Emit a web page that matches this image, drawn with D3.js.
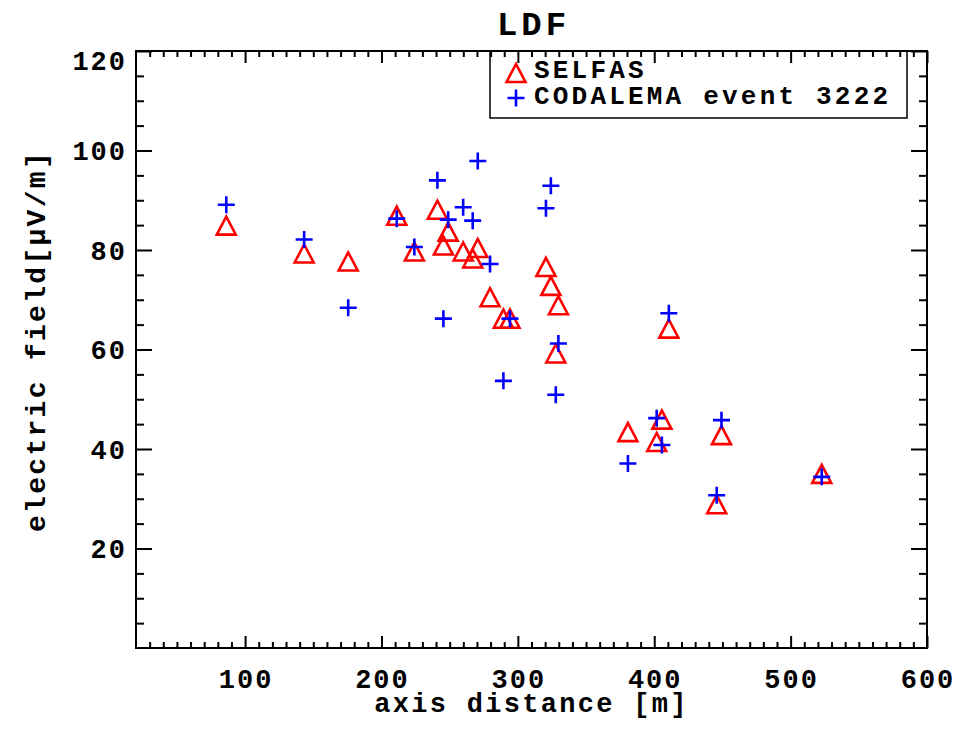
<!DOCTYPE html>
<html>
<head>
<meta charset="utf-8">
<script src="https://cdn.jsdelivr.net/npm/d3@7"></script>
<style>
  body { margin: 0; background: #fff; }
  text { font-family: "Courier New", "Liberation Mono", monospace; font-weight: bold; fill: #000; }
</style>
</head>
<body>
<svg id="chart"></svg>
<script>
// axis distance of each antenna [m]
const distances = [86.2, 143.3, 175.6, 211.2, 224.1, 241.0, 245.4, 248.9, 259.9, 266.9,
    270.6, 279.6, 289.4, 294.2, 320.6, 324.2, 327.8, 329.7, 380.7, 401.8,
    405.6, 410.7, 445.8, 449.3, 522.8];
// simulated field (SELFAS) [uV/m]
const selfas = [84.9, 79.3, 77.7, 86.9, 79.7, 88.1, 80.9, 83.7, 79.7, 78.3,
    80.4, 70.5, 66.2, 66.2, 76.6, 72.8, 59.2, 68.9, 43.4, 41.4,
    45.9, 64.2, 28.9, 42.8, 35.0];
// measured field (CODALEMA event 3222) [uV/m]
const codalema = [89.1, 82.1, 68.4, 86.3, 80.6, 94.0, 66.2, 86.1, 88.6, 85.9,
    97.9, 77.2, 53.7, 66.2, 88.4, 92.9, 50.9, 61.2, 37.1, 46.2,
    40.8, 67.3, 30.7, 45.8, 34.4];

const xMajor = [100, 200, 300, 400, 500, 600];
const yMajor = [20, 40, 60, 80, 100, 120];
const legendLabels = ["SELFAS", "CODALEMA event 3222"];

const width = 965;
const height = 730;
const margin = {left: 136, right: 38, top: 51, bottom: 82};
const plotW = width - margin.left - margin.right;
const plotH = height - margin.top - margin.bottom;

const svg = d3.select("#chart").attr("width", width).attr("height", height);

const x = d3.scaleLinear().domain([20, 600]).range([margin.left, margin.left + plotW]);
const y = d3.scaleLinear().domain([0, 120]).range([margin.top + plotH, margin.top]);

function trianglePath(size) {
    const w = size, h = size * 0.95;
    return `M${-w},${h} L0,${-h} L${w},${h} Z`;
}
function crossPath(size) {
    return `M${-size},0 H${size} M0,${-size} V${size}`;
}

// courier-like wide lettering
function label(sel, size, spacing) {
    return sel.style("font-size", size + "px").style("letter-spacing", spacing + "px");
}

function styleAxis(g) {
    g.select(".domain").remove();
    g.selectAll("line").attr("stroke", "#000").attr("stroke-width", 2);
}

// minor ticks on all four sides
const xMinor = d3.range(30, 601, 10).filter(v => !xMajor.includes(v));
const yMinor = d3.range(5, 120, 5).filter(v => !yMajor.includes(v));

[[y(0), d3.axisBottom], [y(120), d3.axisTop]].forEach(([py, ax]) => {
    svg.append("g").attr("transform", `translate(0,${py})`)
        .call(ax(x).tickValues(xMinor).tickSize(-6).tickFormat(""))
        .call(styleAxis);
    svg.append("g").attr("transform", `translate(0,${py})`)
        .call(ax(x).tickValues(xMajor).tickSize(-12).tickFormat(""))
        .call(styleAxis);
});
[[x(20), d3.axisLeft], [x(600), d3.axisRight]].forEach(([px, ax]) => {
    svg.append("g").attr("transform", `translate(${px},0)`)
        .call(ax(y).tickValues(yMinor).tickSize(-8).tickFormat(""))
        .call(styleAxis);
    svg.append("g").attr("transform", `translate(${px},0)`)
        .call(ax(y).tickValues(yMajor).tickSize(-16).tickFormat(""))
        .call(styleAxis);
});

// tick labels
svg.append("g").selectAll("text")
    .data(xMajor)
    .join("text")
    .attr("x", d => x(d) + 1)
    .attr("y", y(0) + 40)
    .attr("text-anchor", "middle")
    .call(label, 27, 2)
    .text(d => d);

svg.append("g").selectAll("text")
    .data(yMajor)
    .join("text")
    .attr("x", margin.left - 9)
    .attr("y", d => Math.max(y(d), y(120) + 9))
    .attr("dy", "0.36em")
    .attr("text-anchor", "end")
    .call(label, 27, 2)
    .text(d => d);

// frame
svg.append("rect")
    .attr("x", margin.left).attr("y", margin.top)
    .attr("width", plotW).attr("height", plotH)
    .attr("fill", "none").attr("stroke", "#000").attr("stroke-width", 2);

// titles
svg.append("text")
    .attr("x", margin.left + plotW / 2 + 2).attr("y", 35)
    .attr("text-anchor", "middle")
    .call(label, 34, 4)
    .text("LDF");

svg.append("text")
    .attr("x", margin.left + plotW / 2).attr("y", 712)
    .attr("text-anchor", "middle")
    .call(label, 27, 2.3)
    .text("axis distance [m]");

svg.append("text")
    .attr("transform", "translate(45,341) rotate(-90)")
    .attr("text-anchor", "middle")
    .call(label, 28, 2.3)
    .text("electric field[\u03bcV/m]");

// data markers: triangles first, crosses on top
svg.append("g").selectAll("path")
    .data(distances.map((d, i) => [d, selfas[i]]))
    .join("path")
    .attr("transform", d => `translate(${x(d[0])},${y(d[1])})`)
    .attr("d", trianglePath(9.5))
    .attr("fill", "none").attr("stroke", "#ff0000").attr("stroke-width", 2.6);

svg.append("g").selectAll("path")
    .data(distances.map((d, i) => [d, codalema[i]]))
    .join("path")
    .attr("transform", d => `translate(${x(d[0])},${y(d[1])})`)
    .attr("d", crossPath(8.5))
    .attr("fill", "none").attr("stroke", "#0000ff").attr("stroke-width", 2.6);

// legend
const legend = svg.append("g");
legend.append("rect")
    .attr("x", 490).attr("y", 51).attr("width", 417).attr("height", 67)
    .attr("fill", "none").attr("stroke", "#000").attr("stroke-width", 1.5);
legend.append("path")
    .attr("transform", "translate(516,73)")
    .attr("d", trianglePath(9.5))
    .attr("fill", "none").attr("stroke", "#ff0000").attr("stroke-width", 2.6);
legend.append("path")
    .attr("transform", "translate(516,98)")
    .attr("d", crossPath(8.5))
    .attr("fill", "none").attr("stroke", "#0000ff").attr("stroke-width", 2.6);
legend.selectAll("text.lbl")
    .data(legendLabels)
    .join("text")
    .attr("class", "lbl")
    .attr("x", 534)
    .attr("y", (d, i) => 78 + i * 26)
    .call(label, 26, 3.2)
    .text(d => d);
</script>
</body>
</html>
